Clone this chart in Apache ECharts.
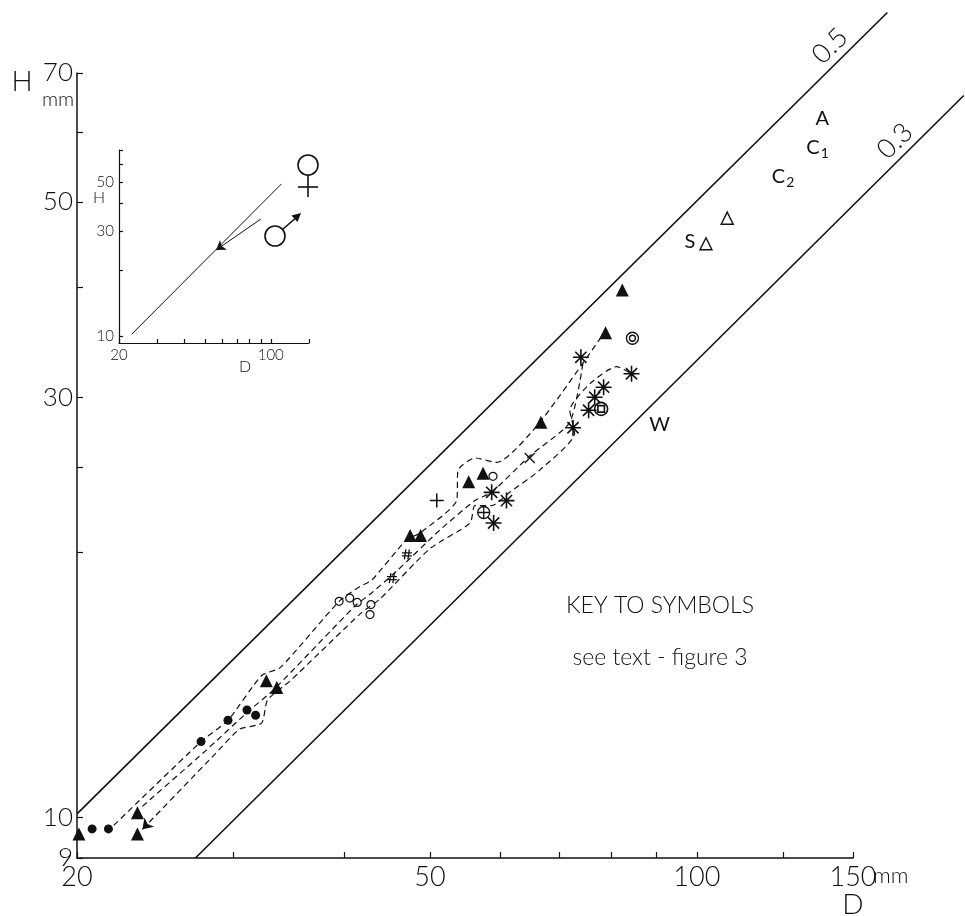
<!DOCTYPE html>
<html>
<head>
<meta charset="utf-8">
<title>H against D</title>
<script src="https://cdn.jsdelivr.net/npm/echarts@6.0.0/dist/echarts.min.js"></script>
<style>
  html, body { margin: 0; padding: 0; background: #fff; }
  #chart { width: 965px; height: 916px; }
</style>
</head>
<body>
<div id="chart"></div>
<script>
const FONT = 'Lato';
const INK = '#111';

// main axes (log scale), values in mm
const xTicks = [20, 30, 40, 50, 60, 70, 80, 90, 100, 125, 150];
const xLabels = [20, 50, 100, 150];
const yTicks = [9, 10, 20, 25, 30, 40, 50, 60, 70];
const yLabels = [9, 10, 30, 50, 70];

// H/D ratio lines (they run past the axes in the print)
const ratio05 = [[20, 10.1], [164, 82]];
const ratio03 = [[27.2, 9], [200, 66]];

// specimens, [D, H]
const filledCircles = [[20.8, 9.71], [21.7, 9.71], [27.6, 12.2], [29.6, 12.9], [31.1, 13.25], [31.8, 13.07]];
const filledTriangles = [[20.1, 9.58], [23.4, 10.13], [23.4, 9.58], [32.7, 14.3], [33.6, 14.05], [47.5, 20.9],
  [48.8, 20.9], [55.3, 24.05], [57.4, 24.6], [66.7, 28.1], [78.9, 35.5], [82.4, 39.7]];
const openCircles = [[39.5, 17.6], [40.6, 17.75], [41.4, 17.55], [42.9, 17.45], [42.8, 17.0], [58.9, 24.4]];
const hashes = [[45.3, 18.7], [47.1, 19.9]];
const pluses = [[50.9, 22.9]];
const crosses = [[64.8, 25.6]];
const asterisks = [[58.7, 23.4], [61.0, 22.9], [59.0, 21.6], [72.5, 27.7], [75.5, 29.0], [76.7, 30.0],
  [78.5, 30.8], [84.4, 31.9], [74.0, 33.3]];
const circlePlus = [[57.5, 22.2]];
const doubleCircles = [[84.6, 35.0]];
const circleSquares = [[78.0, 29.1]];
const openTriangles = [[102.4, 44.8], [108.2, 47.9]];

// letter labels
const labelNames = ['A', 'C1', 'C2', 'S', 'W'];
const labelPoints = [[138.5, 62.2], [136.8, 57.6], [125.1, 53.4], [98.2, 45.1], [90.8, 27.9]];

// dashed growth paths
const pathUpper = [[22.0, 9.8], [27.6, 12.2], [29.6, 12.9], [32.3, 14.5], [33.9, 14.8], [39.5, 17.6],
  [41.7, 18.3], [43.0, 18.6], [47.1, 20.7], [48.6, 21.0], [53.6, 22.9], [53.8, 24.8], [56.2, 25.6],
  [59.5, 25.3], [66.7, 28.2], [78.6, 35.5]];
const pathMiddle = [[23.7, 10.3], [27.9, 11.9], [31.2, 13.2], [33.4, 14.0], [41.2, 17.4], [43.0, 18.0],
  [46.0, 19.1], [51.3, 21.2], [56.2, 22.9], [58.7, 23.4], [64.7, 25.7], [71.9, 28.1], [74.4, 32.8]];
const pathLower = [[23.7, 9.7], [28.6, 11.8], [30.5, 12.6], [32.3, 12.8], [32.8, 13.6], [34.8, 14.3],
  [41.9, 17.1], [43.9, 17.7], [50.0, 20.2], [55.5, 21.6], [56.2, 22.6], [58.7, 22.6], [61.5, 23.4],
  [66.5, 24.8], [72.8, 27.3], [71.9, 29.0], [75.8, 31.1], [81.2, 32.5], [84.4, 31.9]];
const arrowMain = [[23.7, 9.7]];

// inset
const insetXTicks = [20, 30, 40, 50, 60, 70, 80, 90, 100, 150];
const insetXLabels = [20, 100];
const insetYTicks = [10, 20, 30, 40, 50, 60, 70];
const insetYLabels = [10, 30, 50];
const insetAll = [[22.9, 10.2], [112, 49.1]];
const insetMale = [[56, 24.6], [90, 34]];

const chart = echarts.init(document.getElementById('chart'));

// same scale as the main grid, wider range, for the ratio lines
const pxPerDecadeX = 776 / Math.log10(150 / 20);
const pxPerDecadeY = 785 / Math.log10(70 / 9);
const wideTop = 73 - pxPerDecadeY * Math.log10(84 / 70);

const sym = {
  asterisk: 'path://M10,0L10,20M0,10L20,10M3,3L17,17M3,17L17,3',
  hash: 'path://M8,0L5,20M15,0L12,20M0,7L20,7M0,13L20,13',
  plus: 'path://M10,0L10,20M0,10L20,10',
  cross: 'path://M0,0L20,20M0,20L20,0',
  circlePlus: 'path://M0,10A10,10,0,1,1,20,10A10,10,0,1,1,0,10ZM0,10L20,10M10,0L10,20',
  doubleCircle: 'path://M0,10A10,10,0,1,1,20,10A10,10,0,1,1,0,10ZM5,10A5,5,0,1,1,15,10A5,5,0,1,1,5,10Z',
  circleSquare: 'path://M0,10A10,10,0,1,1,20,10A10,10,0,1,1,0,10ZM5,5L15,5L15,15L5,15Z'
};

function points(data, symbol, size, filled, width) {
  return {
    type: 'scatter', data, symbol, symbolSize: size, silent: true,
    itemStyle: filled
      ? { color: INK, opacity: 1 }
      : { color: 'rgba(0,0,0,0)', borderColor: INK, borderWidth: width || 1.3, opacity: 1 }
  };
}

function dashed(data) {
  return {
    type: 'line', data, symbol: 'none', silent: true, smooth: 0.2,
    lineStyle: { color: INK, width: 1.2, type: [6, 4] }
  };
}

function solid(data, w, idx) {
  return {
    type: 'line', data, symbol: 'none', silent: true,
    xAxisIndex: idx, yAxisIndex: idx,
    lineStyle: { color: INK, width: w }
  };
}

function logAxis(gridIndex, min, max, ticks, labels, fs, margin) {
  return {
    type: 'log', gridIndex, min, max,
    axisLine: { lineStyle: { color: INK, width: gridIndex ? 1.2 : 1.5 } },
    axisTick: { inside: true, length: gridIndex ? 4 : 6, customValues: ticks, lineStyle: { color: INK, width: 1.2 } },
    axisLabel: { customValues: labels, color: INK, fontSize: fs, fontFamily: FONT, fontWeight: 300, margin },
    splitLine: { show: false },
    minorTick: { show: false }
  };
}

function text(x, y, str, size, extra) {
  return Object.assign({
    type: 'text', x, y, silent: true,
    style: { text: str, fontSize: size, fontFamily: FONT, fontWeight: 300, fill: INK, align: 'center', verticalAlign: 'middle' }
  }, extra || {});
}

const pen = { fill: 'none', stroke: INK, lineWidth: 1.6 };

const option = {
  animation: false,
  backgroundColor: '#fff',
  grid: [
    { left: 77, top: 73, width: 776, height: 785, containLabel: false, outerBoundsMode: 'none' },
    { left: 119, top: 150, width: 190, height: 193, containLabel: false, outerBoundsMode: 'none' },
    { left: 77, top: wideTop, width: pxPerDecadeX, height: 858 - wideTop, containLabel: false, outerBoundsMode: 'none' }
  ],
  xAxis: [
    logAxis(0, 20, 150, xTicks, xLabels, 27, 6),
    logAxis(1, 20, 150, insetXTicks, insetXLabels, 15, 5),
    { type: 'log', gridIndex: 2, min: 20, max: 200, show: false }
  ],
  yAxis: [
    logAxis(0, 9, 70, yTicks, yLabels, 26, 4),
    logAxis(1, 9.3, 70, insetYTicks, insetYLabels, 15, 5),
    { type: 'log', gridIndex: 2, min: 9, max: 84, show: false }
  ],
  series: [
    solid(ratio05, 1.6, 2),
    solid(ratio03, 1.6, 2),
    dashed(pathUpper),
    dashed(pathMiddle),
    dashed(pathLower),
    points(filledCircles, 'circle', 9, true),
    points(filledTriangles, 'triangle', 13, true),
    points(openCircles, 'circle', 8, false, 1.2),
    points(hashes, sym.hash, 10, false, 1.3),
    points(pluses, sym.plus, 14, false, 1.5),
    points(crosses, sym.cross, 10, false, 1.3),
    points(asterisks, sym.asterisk, 16, false, 1.6),
    points(circlePlus, sym.circlePlus, 12, false, 1.3),
    points(doubleCircles, sym.doubleCircle, 12, false, 1.3),
    points(circleSquares, sym.circleSquare, 13, false, 1.6),
    points(openTriangles, 'triangle', 12, false, 1.4),
    Object.assign(points(arrowMain, 'arrow', 10, true), { symbolRotate: 136 }),
    {
      type: 'scatter', silent: true, symbolSize: 1, itemStyle: { color: 'rgba(0,0,0,0)', opacity: 1 },
      data: labelNames.map((n, i) => ({ name: n, value: labelPoints[i] })),
      label: {
        show: true, position: 'inside', color: INK, fontSize: 20, fontFamily: FONT, fontWeight: 400,
        formatter: p => p.name.length > 1 ? p.name[0] + '{sub|' + p.name.slice(1) + '}' : p.name,
        rich: { sub: { fontSize: 14, fontFamily: FONT, color: INK, padding: [12, 0, 0, 1] } }
      }
    },
    solid(insetAll, 1, 1),
    solid(insetMale, 1, 1),
    Object.assign(points([insetMale[0]], 'arrow', 9, true), { xAxisIndex: 1, yAxisIndex: 1, symbolRotate: 125 })
  ],
  graphic: [
    text(22, 82, 'H', 28),
    text(58, 100, 'mm', 20),
    text(873, 876, 'mm', 22, { style: { text: 'mm', fontSize: 22, fontFamily: FONT, fontWeight: 300, fill: INK, align: 'left', verticalAlign: 'middle' } }),
    text(853, 905, 'D', 28),
    text(830, 46, '0.5', 27, { rotation: Math.PI / 4 }),
    text(895, 141, '0.3', 27, { rotation: Math.PI / 4 }),
    text(660, 606, 'KEY TO SYMBOLS', 23),
    text(660, 658, 'see text - figure 3', 23),
    text(99, 198, 'H', 16),
    text(245, 367, 'D', 16),
    // female sign
    { type: 'circle', silent: true, shape: { cx: 308, cy: 165, r: 10 }, style: pen },
    { type: 'line', silent: true, shape: { x1: 308, y1: 175, x2: 308, y2: 197 }, style: pen },
    { type: 'line', silent: true, shape: { x1: 298, y1: 187, x2: 318, y2: 187 }, style: pen },
    // male sign
    { type: 'circle', silent: true, shape: { cx: 275, cy: 236, r: 10 }, style: pen },
    { type: 'line', silent: true, shape: { x1: 283, y1: 229, x2: 297, y2: 217 }, style: pen },
    { type: 'polygon', silent: true, shape: { points: [[301, 213], [297.5, 222], [291.5, 215.5]] }, style: { fill: INK } }
  ]
};

chart.setOption(option);
</script>
</body>
</html>
